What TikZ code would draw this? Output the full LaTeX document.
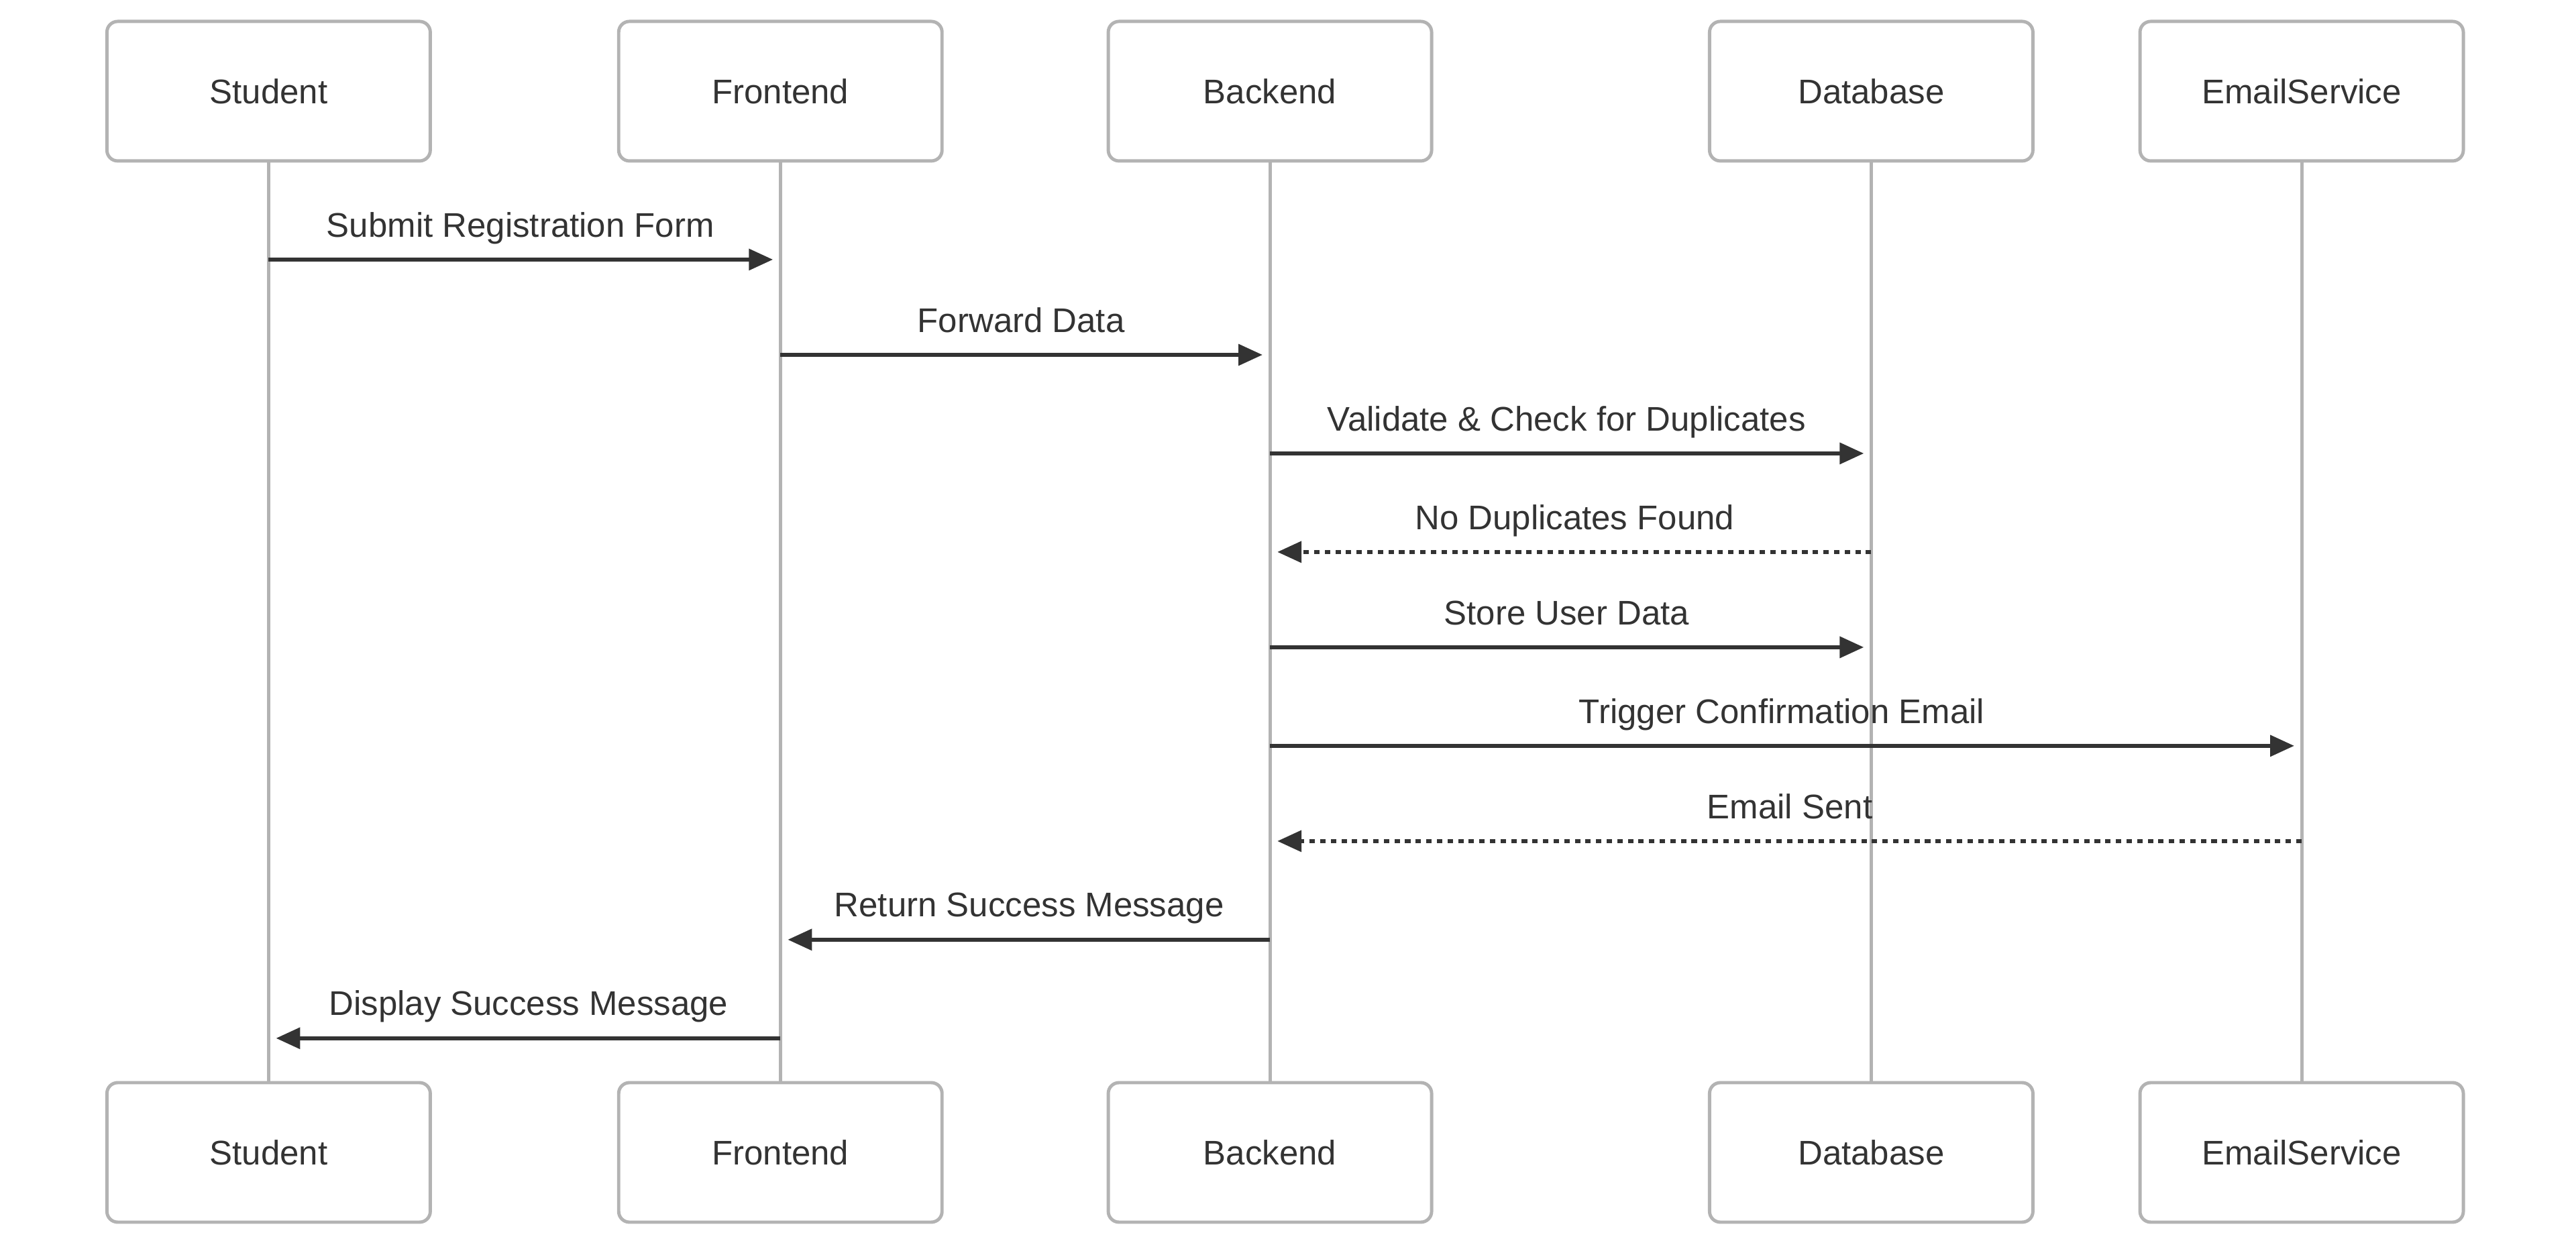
\documentclass[tikz,border=0pt]{standalone}
\usepackage{fontspec}
\setmainfont{Liberation Sans}
\usepackage{tikz}
\usetikzlibrary{arrows.meta,positioning}
\definecolor{boxgray}{HTML}{B3B3B3}
\definecolor{ink}{HTML}{333333}
\tikzset{actor/.style={rectangle,draw=boxgray,fill=white,line width=1.4pt,rounded corners=1.6mm,minimum width=48.2mm,minimum height=20.8mm,inner sep=0pt,text=ink,font=\fontsize{14.5}{17}\selectfont}}
\tikzset{life/.style={draw=boxgray,line width=1.4pt}}
\tikzset{msg/.style={draw=ink,line width=1.8pt,->,shorten >=1.1mm}}
\tikzset{reply/.style={msg,dash pattern=on 2.3pt off 2.2pt}}
\tikzset{lbl/.style={text=ink,inner sep=0pt,text height=0.72em,text depth=0.2em,yshift=4.3mm,font=\fontsize{14.5}{17}\selectfont}}
\tikzset{lblr/.style={lbl,xshift=-0.6mm},lbll/.style={lbl,xshift=0.6mm}}

\begin{document}
\begin{tikzpicture}[x=0.2449mm,y=-0.2449mm,>={Triangle[length=3.6mm,width=3.1mm]}]
        \useasboundingbox (0,0) rectangle (1568,760);
        % participants, top row
        \node[actor] (st) at (163.5,55.5) {Student};
        \node[actor] (ft) at (475,55.5) {Frontend};
        \node[actor] (bt) at (773,55.5) {Backend};
        \node[actor] (dt) at (1139,55.5) {Database};
        \node[actor] (et) at (1401,55.5) {EmailService};
        % participants, bottom row
        \node[actor] (sb) at (163.5,701.5) {Student};
        \node[actor] (fb) at (475,701.5) {Frontend};
        \node[actor] (bb) at (773,701.5) {Backend};
        \node[actor] (db) at (1139,701.5) {Database};
        \node[actor] (eb) at (1401,701.5) {EmailService};

        \draw [life] (st) -- (sb);
        \draw [life] (ft) -- (fb);
        \draw [life] (bt) -- (bb);
        \draw [life] (dt) -- (db);
        \draw [life] (et) -- (eb);

        % message rows
        \coordinate (r1) at (0,158);
        \coordinate (r2) at (0,216);
        \coordinate (r3) at (0,276);
        \coordinate (r4) at (0,336);
        \coordinate (r5) at (0,394);
        \coordinate (r6) at (0,454);
        \coordinate (r7) at (0,512);
        \coordinate (r8) at (0,572);
        \coordinate (r9) at (0,632);

        \draw [msg] (st |- r1) to node[lblr]{Submit Registration Form} (ft |- r1);
        \draw [msg] (ft |- r2) to node[lblr]{Forward Data} (bt |- r2);
        \draw [msg] (bt |- r3) to node[lblr]{Validate \& Check for Duplicates} (dt |- r3);
        \draw [reply] (dt |- r4) to node[lbll]{No Duplicates Found} (bt |- r4);
        \draw [msg] (bt |- r5) to node[lblr]{Store User Data} (dt |- r5);
        \draw [msg] (bt |- r6) to node[lblr]{Trigger Confirmation Email} (et |- r6);
        \draw [reply] (et |- r7) to node[lbll]{Email Sent} (bt |- r7);
        \draw [msg] (bt |- r8) to node[lbll]{Return Success Message} (ft |- r8);
        \draw [msg] (ft |- r9) to node[lbll]{Display Success Message} (st |- r9);
    \end{tikzpicture}
\end{document}
